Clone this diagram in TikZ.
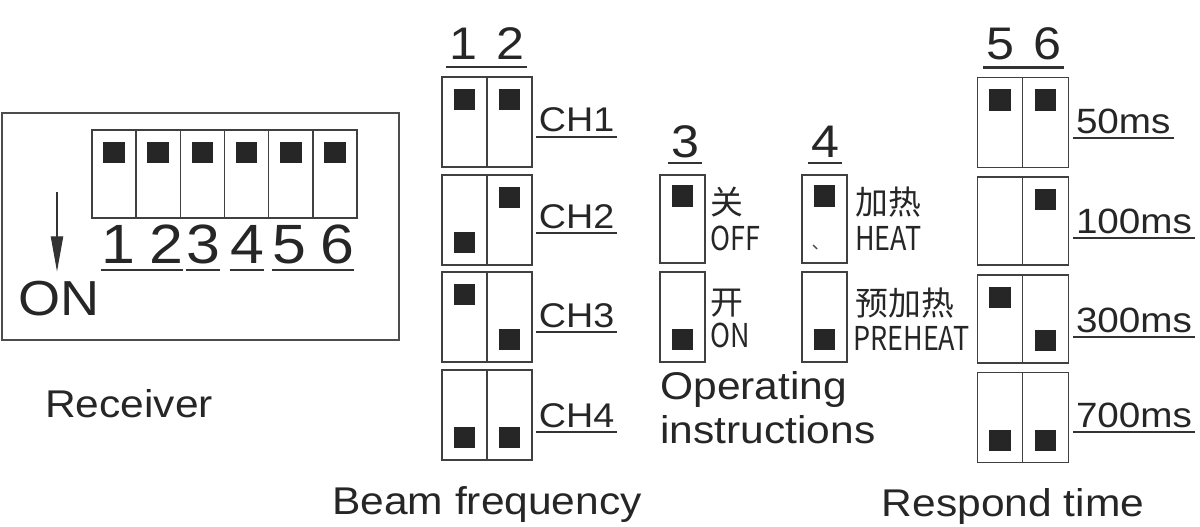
\documentclass[tikz,border=0pt]{standalone}
\usepackage{fontspec}
\setmainfont[FakeStretch=1.1]{Liberation Sans}
\newfontfamily\cjk{Noto Sans CJK SC}
\newfontfamily\narrow[FakeStretch=0.82]{Noto Sans CJK SC}
\usetikzlibrary{positioning,arrows.meta}
\tikzset{
  cell/.style={draw=black!75, line width=0.8pt, minimum width=0.9cm, minimum height=1.8cm, inner sep=0pt, outer sep=0pt},
  rcell/.style={cell, minimum width=0.884cm, minimum height=1.76cm},
  knob/.style={fill=black!85, minimum size=0.43cm, inner sep=0pt, outer sep=0pt},
  digit/.style={font=\fontsize{26}{26}\selectfont, inner xsep=1.5pt, inner ysep=0pt, anchor=base, text=black!85},
  rdigit/.style={digit, font=\fontsize{31.5}{31.5}\selectfont, inner xsep=0pt},
  tag/.style={font=\fontsize{19.5}{20}\selectfont, inner xsep=1.5pt, inner ysep=0pt, anchor=base west, text=black!85},
  ctag/.style={font=\cjk\fontsize{18.7}{19}\selectfont, inner sep=0pt, anchor=base west, text=black!85},
  ntag/.style={font=\narrow\fontsize{18.7}{19}\selectfont, inner sep=0pt, anchor=base west, text=black!85},
  title/.style={font=\fontsize{22}{22}\selectfont, inner sep=0pt, anchor=base, text=black!85},
  uline/.style={black!80, line width=1.6pt},
  frame/.style={draw=black!70, line width=0.8pt}
}
\begin{document}
\begin{tikzpicture}[x=0.02cm, y=-0.02cm]
\useasboundingbox (0,0) rectangle (1200,527);

% receiver
\draw[frame] (2,113) rectangle (399,340);
\node[rcell] (r1) at (114,174) {};
\node[rcell, right=0pt of r1] (r2) {};
\node[rcell, right=0pt of r2] (r3) {};
\node[rcell, right=0pt of r3] (r4) {};
\node[rcell, right=0pt of r4] (r5) {};
\node[rcell, right=0pt of r5] (r6) {};
\node[knob, below=0.23cm of r1.north] (kr1) {};
\node[knob, below=0.23cm of r2.north] (kr2) {};
\node[knob, below=0.23cm of r3.north] (kr3) {};
\node[knob, below=0.23cm of r4.north] (kr4) {};
\node[knob, below=0.23cm of r5.north] (kr5) {};
\node[knob, below=0.23cm of r6.north] (kr6) {};
\node[rdigit] (n1) at (118,263) {1};
\node[rdigit] (n2) at (166,263) {2};
\node[rdigit] (n3) at (203,263) {3};
\node[rdigit] (n4) at (247,263) {4};
\node[rdigit] (n5) at (289,263) {5};
\node[rdigit] (n6) at (337,263) {6};
\draw[uline] ([yshift=-4pt]n1.base west) -- ([yshift=-4pt]n2.base east);
\draw[uline] ([yshift=-4pt]n3.base west) -- ([yshift=-4pt]n3.base east);
\draw[uline] ([yshift=-4pt]n4.base west) -- ([yshift=-4pt]n4.base east);
\draw[uline] ([yshift=-4pt]n5.base west) -- ([yshift=-4pt]n6.base east);
\coordinate (arrtop) at (57,192);
\node[font=\fontsize{28}{28}\selectfont, inner sep=0pt, anchor=base, text=black!85] (on) at (59,315) {ON};
\draw[black!80, line width=0.7pt, -{Triangle[length=20pt, width=7pt]}, shorten >=5pt] (arrtop) -- (arrtop |- on.north);
\node[title] (recv) at (129,417) {Receiver};

% beam frequency
\node[digit] (h1) at (463,60) {1};
\node[digit] (h2) at (510,60) {2};
\draw[uline] ([yshift=-4pt]h1.base west) -- ([yshift=-4pt]h2.base east);
\node[cell] (ch1a) at (464.5,122) {};
\node[cell, right=0pt of ch1a] (ch1b) {};
\node[knob, below=0.23cm of ch1a.north] (k1a) {};
\node[knob, below=0.23cm of ch1b.north] (k1b) {};
\node[cell] (ch2a) at (464.5,220) {};
\node[cell, right=0pt of ch2a] (ch2b) {};
\node[knob, above=0.23cm of ch2a.south] (k2a) {};
\node[knob, below=0.23cm of ch2b.north] (k2b) {};
\node[cell] (ch3a) at (464.5,317) {};
\node[cell, right=0pt of ch3a] (ch3b) {};
\node[knob, below=0.23cm of ch3a.north] (k3a) {};
\node[knob, above=0.23cm of ch3b.south] (k3b) {};
\node[cell] (ch4a) at (464.5,415) {};
\node[cell, right=0pt of ch4a] (ch4b) {};
\node[knob, above=0.23cm of ch4a.south] (k4a) {};
\node[knob, above=0.23cm of ch4b.south] (k4b) {};
\node[tag] (ch1) at (536,132) {CH1};
\node[tag] (ch2) at (536,228) {CH2};
\node[tag] (ch3) at (536,327) {CH3};
\node[tag] (ch4) at (536,427) {CH4};
\draw[uline] ([yshift=-2.8pt]ch1.base west) -- ([yshift=-2.8pt]ch1.base east);
\draw[uline] ([yshift=-2.8pt]ch2.base west) -- ([yshift=-2.8pt]ch2.base east);
\draw[uline] ([yshift=-2.8pt]ch3.base west) -- ([yshift=-2.8pt]ch3.base east);
\draw[uline] ([yshift=-2.8pt]ch4.base west) -- ([yshift=-2.8pt]ch4.base east);
\node[title] (beam) at (487,514) {Beam frequency};

% operating
\node[digit] (h3) at (685,157) {3};
\draw[uline] ([yshift=-3.4pt]h3.base west) -- ([yshift=-3.4pt]h3.base east);
\node[cell, minimum height=1.76cm] (s3a) at (682.5,219) {};
\node[cell] (s3b) at (682.5,317) {};
\node[knob, below=0.2cm of s3a.north] (k5a) {};
\node[knob, above=0.23cm of s3b.south] (k5b) {};
\node[ctag] (guan) at (710,214) {关};
\node[ntag] (off) at (710,250) {OFF};
\node[ctag] (kai) at (710,314) {开};
\node[ntag] (on3) at (710,347) {ON};
\node[digit] (h4) at (825,157) {4};
\draw[uline] ([yshift=-3.4pt]h4.base west) -- ([yshift=-3.4pt]h4.base east);
\node[cell, minimum height=1.76cm] (s4a) at (824.5,219) {};
\node[cell] (s4b) at (824.5,317) {};
\node[knob, below=0.2cm of s4a.north] (k6a) {};
\node[knob, above=0.23cm of s4b.south] (k6b) {};
\draw[black!70, line width=0.8pt] (813,245) -- (817,249);
\node[ctag] (jiare) at (855,214) {加热};
\node[ntag] (heat) at (855,250) {HEAT};
\node[ctag] (yjr) at (855,315) {预加热};
\node[ntag] (preheat) at (853,350) {PREHEAT};
\node[title, anchor=base west] (op1) at (660,399) {Operating};
\node[title, anchor=base west] (op2) at (660,443) {instructions};

% respond time
\node[digit] (h5) at (1000,60) {5};
\node[digit] (h6) at (1047,60) {6};
\draw[uline] ([yshift=-4.2pt]h5.base west) -- ([yshift=-4.2pt]h6.base east);
\node[cell, minimum width=0.91cm] (t1a) at (1000,122.5) {};
\node[cell, minimum width=0.91cm, right=0pt of t1a] (t1b) {};
\node[knob, below=0.23cm of t1a.north] (q1a) {};
\node[knob, below=0.23cm of t1b.north] (q1b) {};
\node[cell, minimum width=0.91cm, minimum height=1.76cm] (t2a) at (1000,221) {};
\node[cell, minimum width=0.91cm, minimum height=1.76cm, right=0pt of t2a] (t2b) {};
\node[knob, below=0.23cm of t2b.north] (q2b) {};
\node[cell, minimum width=0.91cm, minimum height=1.76cm] (t3a) at (1000,319) {};
\node[cell, minimum width=0.91cm, minimum height=1.76cm, right=0pt of t3a] (t3b) {};
\node[knob, below=0.23cm of t3a.north] (q3a) {};
\node[knob, above=0.23cm of t3b.south] (q3b) {};
\node[cell, minimum width=0.91cm] (t4a) at (1000,417.5) {};
\node[cell, minimum width=0.91cm, right=0pt of t4a] (t4b) {};
\node[knob, above=0.23cm of t4a.south] (q4a) {};
\node[knob, above=0.23cm of t4b.south] (q4b) {};
\node[tag, font=\fontsize{20}{20}\selectfont] (ms50) at (1073,133) {50ms};
\node[tag, font=\fontsize{20}{20}\selectfont] (ms100) at (1073,233) {100ms};
\node[tag, font=\fontsize{20}{20}\selectfont] (ms300) at (1073,332) {300ms};
\node[tag, font=\fontsize{20}{20}\selectfont] (ms700) at (1073,427) {700ms};
\draw[uline] ([yshift=-2.8pt]ms50.base west) -- ([yshift=-2.8pt]ms50.base east);
\draw[uline] ([yshift=-2.8pt]ms100.base west) -- ([yshift=-2.8pt]ms100.base east);
\draw[uline] ([yshift=-2.8pt]ms300.base west) -- ([yshift=-2.8pt]ms300.base east);
\draw[uline] ([yshift=-2.8pt]ms700.base west) -- ([yshift=-2.8pt]ms700.base east);
\node[title] (resp) at (1013,516) {Respond time};
\end{tikzpicture}
\end{document}
